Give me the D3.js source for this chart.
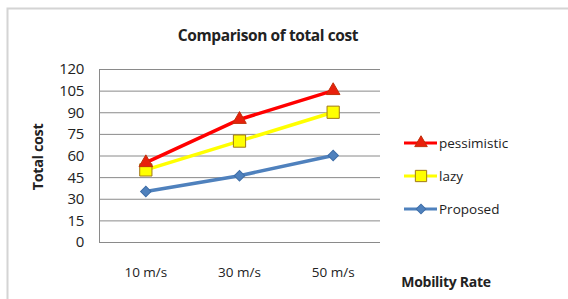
<!DOCTYPE html>
<html>
<head>
<meta charset="utf-8">
<script src="https://cdn.jsdelivr.net/npm/d3@7"></script>
<style>
  body { margin: 0; background: #fff; }
  text { font-family: "Open Sans", "Noto Sans", sans-serif; fill: #222; }
</style>
</head>
<body>
<script>
// chart data
var categories = ["10 m/s", "30 m/s", "50 m/s"];
var pessimistic = [55, 85, 105];
var lazy = [50, 70, 90];
var proposed = [35, 46, 60];
var yTicks = [0, 15, 30, 45, 60, 75, 90, 105, 120];

var width = 568, height = 299;

var svg = d3.select("body").append("svg")
  .attr("width", width)
  .attr("height", height);

// outer frame
svg.append("rect")
  .attr("x", 7.5).attr("y", 8.5)
  .attr("width", 600).attr("height", 320)
  .attr("fill", "none")
  .attr("stroke", "#d4d4d4")
  .attr("stroke-width", 2);

var plotLeft = 99, plotRight = 380, plotTop = 69, plotBottom = 242;

var x = d3.scalePoint()
  .domain(categories)
  .range([plotLeft, plotRight])
  .padding(0.5);

var y = d3.scaleLinear()
  .domain([0, 120])
  .range([plotBottom, plotTop]);

// gridlines
svg.append("g")
  .selectAll("line")
  .data(yTicks)
  .enter()
  .append("line")
  .attr("x1", plotLeft).attr("x2", plotRight)
  .attr("y1", d => y(d) + 0.5).attr("y2", d => y(d) + 0.5)
  .attr("stroke", "#8a8a8a")
  .attr("stroke-width", 1);

// left axis line
svg.append("line")
  .attr("x1", plotLeft + 0.5).attr("x2", plotLeft + 0.5)
  .attr("y1", plotTop).attr("y2", plotBottom + 1)
  .attr("stroke", "#8a8a8a");

// y tick labels
svg.append("g")
  .selectAll("text")
  .data(yTicks)
  .enter()
  .append("text")
  .attr("x", 84)
  .attr("y", d => y(d))
  .attr("dy", "0.36em")
  .attr("text-anchor", "end")
  .attr("font-size", 15)
  .attr("letter-spacing", -0.3)
  .text(d => d);

// x tick labels
svg.append("g")
  .selectAll("text")
  .data(categories)
  .enter()
  .append("text")
  .attr("x", d => x(d))
  .attr("y", 272)
  .attr("dy", "0.36em")
  .attr("text-anchor", "middle")
  .attr("font-size", 13.5)
  .text(d => d);

// titles
svg.append("text")
  .attr("x", 268).attr("y", 35).attr("dy", "0.36em")
  .attr("text-anchor", "middle")
  .attr("font-size", 15.5).attr("font-weight", "bold")
  .attr("letter-spacing", -0.4)
  .text("Comparison of total cost");

svg.append("text")
  .attr("transform", "translate(38,157) rotate(-90)")
  .attr("dy", "0.36em")
  .attr("text-anchor", "middle")
  .attr("font-size", 14.5).attr("font-weight", "bold")
  .attr("letter-spacing", -0.4)
  .text("Total cost");

svg.append("text")
  .attr("x", 446).attr("y", 282).attr("dy", "0.36em")
  .attr("text-anchor", "middle")
  .attr("font-size", 14).attr("font-weight", "bold")
  .attr("letter-spacing", -0.3)
  .text("Mobility Rate");

var series = [
  { name: "pessimistic", values: pessimistic, color: "#ff0000", fill: "#e8200c", edge: "#c0300a", symbol: d3.symbolTriangle, size: 80, rot: 0 },
  { name: "lazy", values: lazy, color: "#ffff00", fill: "#ffff00", edge: "#a07818", symbol: d3.symbolSquare, size: 150, rot: 0 },
  { name: "Proposed", values: proposed, color: "#4f81bd", fill: "#4f81bd", edge: "#3e6ea8", symbol: d3.symbolSquare, size: 55, rot: 45 }
];

var line = d3.line()
  .x((d, i) => x(categories[i]))
  .y(d => y(d));

// draw lines in reverse so pessimistic is on top
series.slice().reverse().forEach(function(s) {
  svg.append("path")
    .datum(s.values)
    .attr("d", line)
    .attr("fill", "none")
    .attr("stroke", s.color)
    .attr("stroke-width", 3.5);

  svg.append("g")
    .selectAll("path")
    .data(s.values)
    .enter()
    .append("path")
    .attr("transform", (d, i) => "translate(" + x(categories[i]) + "," + y(d) + ") rotate(" + s.rot + ")")
    .attr("d", d3.symbol().type(s.symbol).size(s.size))
    .attr("fill", s.fill)
    .attr("stroke", s.edge)
    .attr("stroke-width", 1);
});

// legend
var legendY = [143, 176, 209];
var legend = svg.append("g")
  .selectAll("g")
  .data(series)
  .enter()
  .append("g")
  .attr("transform", (d, i) => "translate(404," + legendY[i] + ")");

legend.append("line")
  .attr("x1", 0).attr("x2", 33)
  .attr("stroke", d => d.color)
  .attr("stroke-width", 3);

legend.append("path")
  .attr("transform", d => "translate(17,0) rotate(" + d.rot + ")")
  .attr("d", d => d3.symbol().type(d.symbol).size(d.size * 0.85)())
  .attr("fill", d => d.fill)
  .attr("stroke", d => d.edge);

legend.append("text")
  .attr("x", 35)
  .attr("dy", "0.36em")
  .attr("font-size", 13.5)
  .text(d => d.name);
</script>
</body>
</html>
